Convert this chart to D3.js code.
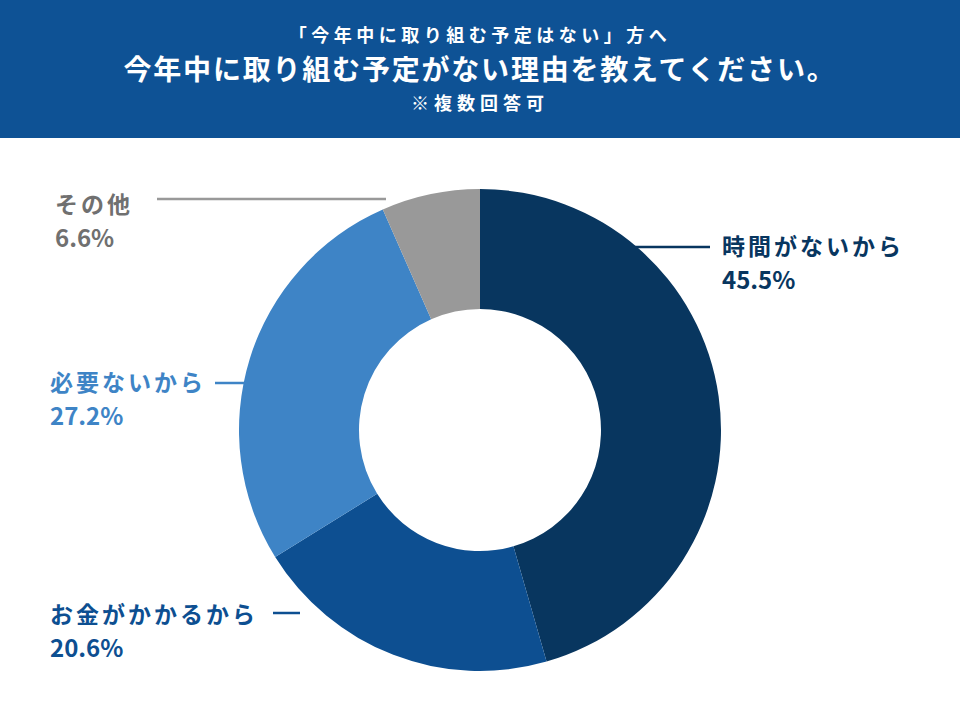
<!DOCTYPE html>
<html>
<head>
<meta charset="utf-8">
<script src="https://cdn.jsdelivr.net/npm/d3@7"></script>
<style>
  body{margin:0;background:#fff;}
  text{font-family:"Noto Sans CJK JP","Noto Sans",sans-serif;font-weight:700;}
</style>
</head>
<body>
<svg id="main"></svg>
<script>
//--------data----------
const categories = ['時間がないから', 'お金がかかるから', '必要ないから', 'その他'];
const values = [45.5, 20.6, 27.2, 6.6];
const titleLines = ['「今年中に取り組む予定はない」方へ', '今年中に取り組む予定がない理由を教えてください。', '※複数回答可'];

//--------code----------
const width = 960, height = 720;
const sliceColors = ['#08365f', '#0d4f91', '#3e84c6', '#999999'];
const labelColors = ['#08365f', '#0d4f91', '#3e84c6', '#707070'];

let svg = d3.select('#main')
  .attr('width', width)
  .attr('height', height);

// header band
svg.append('rect')
  .attr('x', 0).attr('y', 0)
  .attr('width', width).attr('height', 138)
  .attr('fill', '#0e5295');

const titleY = [42, 80, 110];
const titleSize = [18, 28, 18];
const titleSpacing = [4.5, 1.8, 5];
svg.selectAll('.title')
  .data(titleLines)
  .join('text')
  .attr('class', 'title')
  .attr('x', width/2)
  .attr('y', (d,i)=>titleY[i])
  .attr('text-anchor', 'middle')
  .attr('fill', '#fff')
  .style('font-size', (d,i)=>titleSize[i]+'px')
  .style('letter-spacing', (d,i)=>titleSpacing[i]+'px')
  .text(d=>d);

// donut
const cx = 480, cy = 430, R = 241, r = 121;
const data = categories.map((c,i)=>({label:c, value:values[i], i:i}));
const pie = d3.pie().value(d=>d.value).sort(null);
const arc = d3.arc().innerRadius(r).outerRadius(R);

let g = svg.append('g').attr('transform', `translate(${cx},${cy})`);
g.selectAll('.slice')
  .data(pie(data))
  .join('path')
  .attr('class', 'slice')
  .attr('d', arc)
  .attr('fill', d=>sliceColors[d.data.i]);

// labels with leader lines (ty = centre of first text line, ly = leader y)
const labelPos = [
  {x: 722, ty: 247, ly: 247, lx1: 634, lx2: 710},
  {x: 50, ty: 615, ly: 613, lx1: 273, lx2: 300},
  {x: 50, ty: 383, ly: 383, lx1: 215, lx2: 244},
  {x: 55, ty: 205, ly: 199, lx1: 157, lx2: 386}
];

svg.selectAll('.leader')
  .data(data)
  .join('line')
  .attr('class', 'leader')
  .attr('x1', d=>labelPos[d.i].lx1)
  .attr('x2', d=>labelPos[d.i].lx2)
  .attr('y1', d=>labelPos[d.i].ly)
  .attr('y2', d=>labelPos[d.i].ly)
  .attr('stroke', d=>sliceColors[d.i])
  .attr('stroke-width', 2.5);

let labels = svg.selectAll('.lab')
  .data(data)
  .join('text')
  .attr('class', 'lab')
  .attr('fill', d=>labelColors[d.i]);
labels.append('tspan')
  .attr('x', d=>labelPos[d.i].x)
  .attr('y', d=>labelPos[d.i].ty + 8)
  .style('font-size', '23px')
  .style('letter-spacing', '3px')
  .text(d=>d.label);
labels.append('tspan')
  .attr('x', d=>labelPos[d.i].x)
  .attr('y', d=>labelPos[d.i].ty + 42)
  .style('font-size', '24px')
  .text(d=>d3.format('.1f')(d.value)+'%');
</script>
</body>
</html>
